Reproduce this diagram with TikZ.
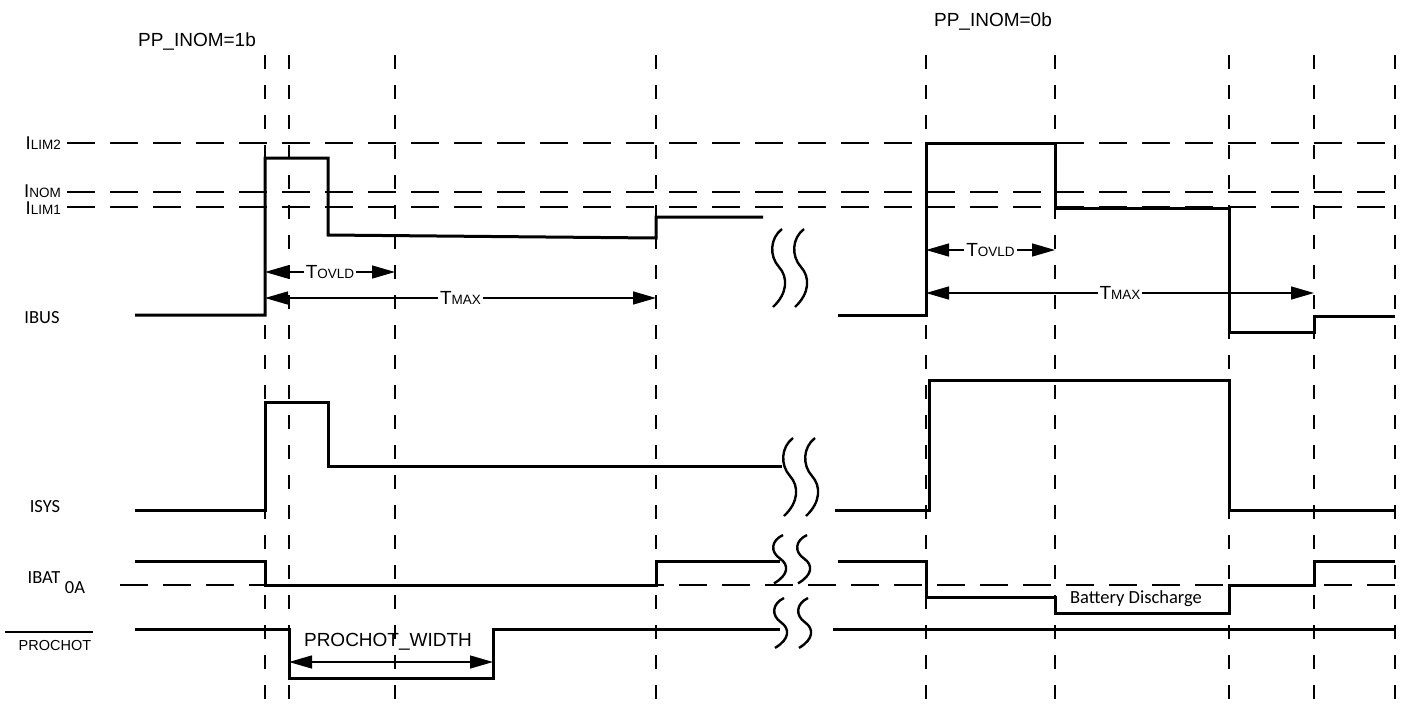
\documentclass[tikz,border=0pt]{standalone}
\usepackage{fontspec}
\setmainfont{Liberation Sans}
\newfontfamily\calfont{Carlito}
\usetikzlibrary{arrows.meta}
\newcommand\smalltxt[1]{{\fontsize{13.5}{14}\selectfont #1}}
\begin{document}
\begin{tikzpicture}[x=1pt,y=-1pt,
  wave/.style={line width=3pt, line join=miter},
  vdash/.style={line width=1.4pt, dash pattern=on 14pt off 16pt},
  hdash/.style={line width=1.4pt, dash pattern=on 28pt off 15pt},
  dim/.style={line width=1.4pt, {Triangle[length=23pt,width=13pt]}-{Triangle[length=23pt,width=13pt]}},
  lab/.style={font=\fontsize{19}{19}\selectfont, inner sep=1pt},
  thr/.style={font=\fontsize{18.5}{19}\selectfont, inner sep=0pt, anchor=east},
  clab/.style={font=\calfont\fontsize{18.5}{19}\selectfont, inner sep=0pt},
  squigpic/.pic={\draw[line width=2.4pt] (0,0) .. controls (-12,9) and (-13,27) .. (-3,38) .. controls (6,48) and (6,64) .. (-9,78);}
]
\useasboundingbox (0,0) rectangle (1401,705);
% vertical dashed guides
\foreach \n/\x in {1/265,2/289,3/395,4/656,5/926,6/1055,7/1229,8/1314,9/1395} {
  \coordinate (t\n) at (\x,55);
  \coordinate (b\n) at (\x,702);
  \draw[vdash] (t\n) -- (b\n);
}
% threshold labels and dashed lines
\node[thr] (ilim2) at (61,143) {I\smalltxt{LIM2}};
\node[thr] (inom) at (61,191) {I\smalltxt{NOM}};
\node[thr] (ilim1) at (61,208.5) {I\smalltxt{LIM1}};
\coordinate (h2a) at (67,143); \coordinate (h2b) at (1395,143);
\coordinate (hna) at (67,192); \coordinate (hnb) at (1395,192);
\coordinate (h1a) at (67,207); \coordinate (h1b) at (1395,207);
\coordinate (h0a) at (120,585); \coordinate (h0b) at (1395,585);
\draw[hdash] (h2a) -- (h2b);
\draw[hdash] (hna) -- (hnb);
\draw[hdash] (h1a) -- (h1b);
\draw[hdash] (h0a) -- (h0b);
% signal labels
\node[lab] (pp1) at (197,41) {PP\_INOM=1b};
\node[lab] (pp0) at (993,21) {PP\_INOM=0b};
\node[clab] (ibus) at (42,318) {IBUS};
\node[clab] (isys) at (45,507) {ISYS};
\node[clab] (ibat) at (44,578) {IBAT};
\node[clab] (zeroA) at (75,588) {0A};
\node[clab] (bd) at (1136,599) {Battery Discharge};
\node[font=\fontsize{14.5}{15}\selectfont, inner sep=0pt] (pch) at (55,645) {PROCHOT};
\coordinate (olA) at (5,632); \coordinate (olB) at (93,632);
\draw[line width=1.4pt] (olA) -- (olB);
% IBUS
\draw[wave] (135,315) -- (265,315) -- (265,158) -- (328,158) -- (328,235) -- (656,238) -- (656,217) -- (763,217);
\draw[wave] (838,315) -- (926,315) -- (926,143) -- (1055,143) -- (1055,208) -- (1229,208) -- (1229,332) -- (1314,332) -- (1314,316) -- (1395,316);
% ISYS
\draw[wave] (135,510) -- (265,510) -- (265,402) -- (328,402) -- (328,466) -- (782,466);
\draw[wave] (835,510) -- (929,510) -- (929,380) -- (1229,380) -- (1229,510) -- (1395,510);
% IBAT
\draw[wave] (135,561) -- (265,561) -- (265,585) -- (656,585) -- (656,561) -- (780,561);
\draw[wave] (838,561) -- (926,561) -- (926,597) -- (1055,597) -- (1055,613) -- (1229,613) -- (1229,585) -- (1314,585) -- (1314,561) -- (1395,561);
% PROCHOT
\draw[wave] (135,629) -- (289,629) -- (289,678) -- (493,678) -- (493,629) -- (780,629);
\draw[wave] (833,629) -- (1395,629);
% breaks
\pic at (782,229) {squigpic};
\pic at (804,229) {squigpic};
\pic at (793,438) {squigpic};
\pic at (815,438) {squigpic};
\pic[yscale=0.62] at (783,535) {squigpic};
\pic[yscale=0.62] at (807,535) {squigpic};
\pic[yscale=0.64] at (784,598) {squigpic};
\pic[yscale=0.64] at (808,598) {squigpic};
% dimension arrows
\coordinate (ta1) at (265,272); \coordinate (tb1) at (395,272);
\draw[dim] (ta1) -- node[lab,fill=white,inner sep=2pt] (tov1) {T\smalltxt{OVLD}} (tb1);
\coordinate (ma1) at (265,298); \coordinate (mb1) at (656,298);
\draw[dim] (ma1) -- node[lab,fill=white,inner sep=2pt] (tmx1) {T\smalltxt{MAX}} (mb1);
\coordinate (ta2) at (926,250); \coordinate (tb2) at (1055,250);
\draw[dim] (ta2) -- node[lab,fill=white,inner sep=2pt] (tov2) {T\smalltxt{OVLD}} (tb2);
\coordinate (ma2) at (926,293); \coordinate (mb2) at (1314,293);
\draw[dim] (ma2) -- node[lab,fill=white,inner sep=2pt] (tmx2) {T\smalltxt{MAX}} (mb2);
\coordinate (pa) at (289,662); \coordinate (pb) at (493,662);
\draw[dim] (pa) -- (pb);
\node[lab] (pw) at (388,642) {PROCHOT\_WIDTH};
\end{tikzpicture}
\end{document}
